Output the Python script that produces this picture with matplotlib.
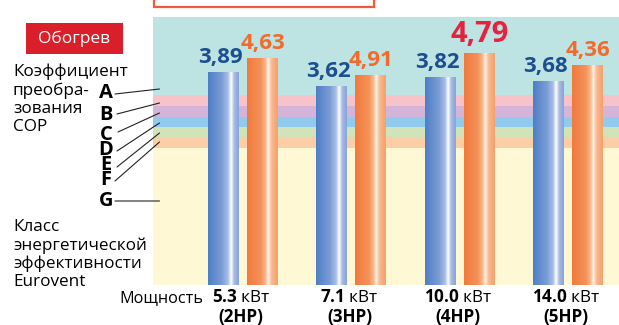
import numpy as np
import matplotlib
matplotlib.use("Agg")
from matplotlib import pyplot as plt
from matplotlib.colors import LinearSegmentedColormap
from matplotlib.patches import Rectangle

# chart data (bar heights are drawing heights, not to scale of COP values)
models = ["5.3", "7.1", "10.0", "14.0"]
hp_labels = ["(2HP)", "(3HP)", "(4HP)", "(5HP)"]
blue_heights = [213, 199, 208, 204]
orange_heights = [227, 210, 232, 220]
blue_labels = ["3,89", "3,62", "3,82", "3,68"]
orange_labels = ["4,63", "4,91", "4,79", "4,36"]
classes = ["A", "B", "C", "D", "E", "F", "G"]
class_edges = [268, 190, 179, 168, 158, 148, 137, 0]  # top -> bottom
class_colors = ["#bde3e3", "#f8c2ca", "#d4b5d9", "#90cbee", "#d1e4b9", "#fbcea6", "#fef8d4"]

plt.rcParams["font.family"] = ["Open Sans", "DejaVu Sans"]
plt.rcParams["mathtext.fontset"] = "custom"
plt.rcParams["mathtext.bf"] = "Open Sans:bold"
plt.rcParams["mathtext.rm"] = "Open Sans"

W, H = 619, 325
fig = plt.figure(figsize=(W / 100, H / 100), dpi=100)
PT = 72 / 100  # points per pixel


def fx(px):
    return px / W


def fy(py):
    return 1 - py / H


ax = fig.add_axes([fx(153), fy(285), fx(619 - 153), (285 - 17) / H])
ax.set_axis_off()
x = np.arange(len(models))
xmin, xmax = -0.831, 3.47
ax.set_xlim(xmin, xmax)
ax.set_ylim(0, class_edges[0])

# efficiency class bands
for i, c in enumerate(class_colors):
    ax.axhspan(class_edges[i + 1], class_edges[i], color=c, lw=0, zorder=0)

blue_cmap = LinearSegmentedColormap.from_list(
    "b", [(0, "#4d7ec6"), (0.45, "#7b9dd6"), (0.65, "#a9bfe6"), (0.75, "#ffffff"),
          (0.85, "#a7bbe4"), (1.0, "#87a3d9")])
orange_cmap = LinearSegmentedColormap.from_list(
    "o", [(0, "#f07a3c"), (0.45, "#f5925a"), (0.6, "#f9b88a"), (0.69, "#fff2e6"),
          (0.8, "#f9b890"), (1.0, "#f4a06a")])
grad = np.linspace(0, 1, 200)[None, :]

bw = 0.286
off = 0.18
blue_bars = ax.bar(x - off, blue_heights, bw, color="none", zorder=2)
orange_bars = ax.bar(x + off, orange_heights, bw, color="none", zorder=2)
for bars, cmap in [(blue_bars, blue_cmap), (orange_bars, orange_cmap)]:
    for b in bars:
        ax.imshow(grad, cmap=cmap, aspect="auto", zorder=2,
                  extent=[b.get_x(), b.get_x() + b.get_width(), 0, b.get_height()])
ax.set_xlim(xmin, xmax)
ax.set_ylim(0, class_edges[0])

for b, lab in zip(blue_bars, blue_labels):
    ax.annotate(lab, (b.get_x() + b.get_width() / 2 - 0.03, b.get_height()), xytext=(0, 3),
                textcoords="offset points", ha="center", va="bottom",
                fontsize=16, fontweight="bold", color="#1d4f8f")
for i, (b, lab) in enumerate(zip(orange_bars, orange_labels)):
    big = i == 2
    ax.annotate(lab, (b.get_x() + b.get_width() / 2, b.get_height()), xytext=(0, 3),
                textcoords="offset points", ha="center", va="bottom",
                fontsize=21 if big else 16, fontweight="bold",
                color="#e8213f" if big else "#f26b2c")

# category labels under the pairs
for xi, m, hp in zip(x, models, hp_labels):
    ax.annotate(r"$\mathbf{" + m + "}$ кВт", (xi, 0), xytext=(-2 * PT, -13 * PT),
                textcoords="offset points", ha="center", va="center", fontsize=12.3)
    ax.annotate(hp, (xi, 0), xytext=(-2 * PT, -32 * PT), textcoords="offset points",
                ha="center", va="center", fontsize=12.3, fontweight="bold")
fig.text(fx(203), fy(298), "Мощность", ha="right", va="center", fontsize=11.7)

# left side texts
fig.patches.append(Rectangle((fx(26), fy(54)), fx(97), 31 / H, transform=fig.transFigure,
                             color="#d9202a", lw=0))
fig.text(fx(74), fy(39), "Обогрев", ha="center", va="center", color="white", fontsize=12.5)
fig.text(fx(13), fy(64), "Коэффициент\nпреобра-\nзования\nCOP", ha="left", va="top",
         fontsize=12.3, linespacing=1.17)
fig.text(fx(13), fy(219), "Класс\nэнергетической\nэффективности\nEurovent", ha="left",
         va="top", fontsize=12.3, linespacing=1.17)

letter_y = [92.5, 115.5, 134.5, 150, 164.5, 180, 201.5]
start_x = [115, 117, 118, 117, 117, 115, 115]
start_y = [94, 114, 132, 151, 167, 181, 201]
end_y = [196, 182, 172, 162, 152, 143, 84]
for lab, ly, sx, sy, ey in zip(classes, letter_y, start_x, start_y, end_y):
    fig.text(fx(106), fy(ly), lab, ha="center", va="center", fontsize=14.5, fontweight="bold")
    ax.annotate("", xy=(xmin + 0.06, ey), xycoords="data",
                xytext=(fx(sx), fy(sy)), textcoords="figure fraction",
                arrowprops=dict(arrowstyle="-", lw=0.8, color="#222222", shrinkA=0, shrinkB=0),
                annotation_clip=False)

# top title frame (cut off)
fig.patches.append(Rectangle((fx(154), fy(7)), fx(220), 12 / H, transform=fig.transFigure,
                             facecolor="white", edgecolor="#f15a3a", lw=1.6))

fig.savefig("out.png", dpi=100)
